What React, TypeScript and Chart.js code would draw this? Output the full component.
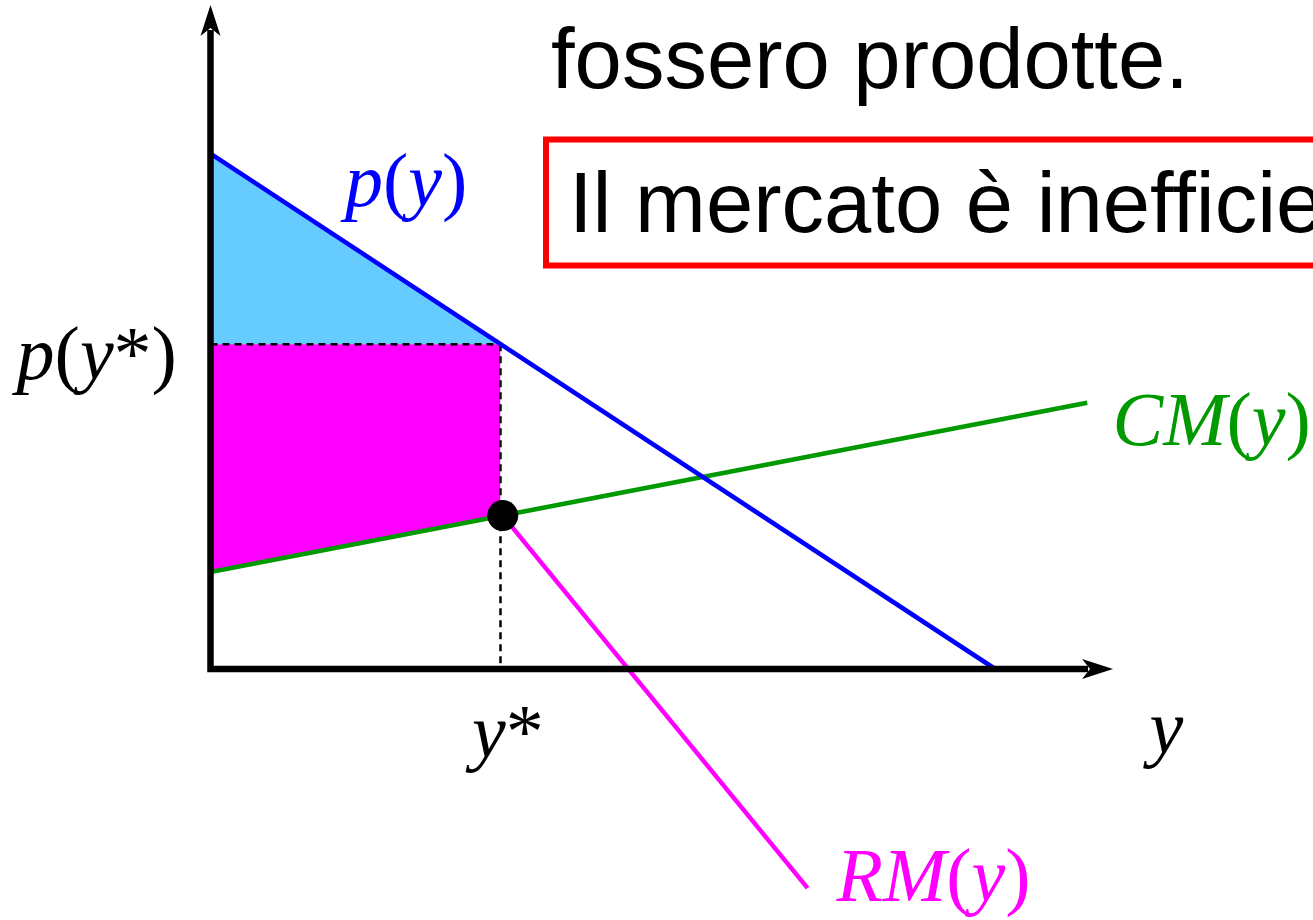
import React, { useEffect, useRef } from "react";
import { Chart, registerables } from "chart.js";

Chart.register(...registerables);

// ---- data (economic units) ----
const demandQ = [0, 87];
const demandP = [77.6, 0];
const mcQ = [0, 97.2];
const mcP = [14.6, 40.1];
const mrQ = [32.4, 66.2];
const mrP = [23.1, -33.0];
const yStar = 32.15;
const pStar = 48.9;
const mcAtYStar = 23.0;
const eqPoint = { q: 32.4, p: 23.1 };
const axisEnd = { q: 100.06, p: 100 };

// label anchors (data units) — text
const mathLabels: { parts: [string, boolean][]; q: number; p: number; color: string }[] = [
  { parts: [["p", true], ["(", false], ["y", true], [")", false]], q: 14.9, p: 69.7, color: "#0000FF" },
  { parts: [["p", true], ["(", false], ["y", true], ["*", false], [")", false]], q: -21.5, p: 43.7, color: "#000000" },
  { parts: [["CM", true], ["(", false], ["y", true], [")", false]], q: 100.0, p: 33.8, color: "#009900" },
  { parts: [["RM", true], ["(", false], ["y", true], [")", false]], q: 69.4, p: -35.0, color: "#FF00FF" },
  { parts: [["y", true], ["*", false]], q: 29.0, p: -13.3, color: "#000000" },
  { parts: [["y", true]], q: 104.1, p: -12.6, color: "#000000" },
];

const headline = "fossero prodotte.";
const boxText = "Il mercato è inefficiente";

const pts = (xs: number[], ys: number[]) => xs.map((x, i) => ({ x, y: ys[i] }));

export default function App() {
  const ref = useRef<HTMLCanvasElement | null>(null);

  useEffect(() => {
    const canvas = ref.current;
    if (!canvas) return;

    const overlay = {
      id: "overlay",
      beforeDraw(chart: any) {
        const c = chart.ctx;
        c.save();
        c.fillStyle = "#ffffff";
        c.fillRect(0, 0, chart.width, chart.height);
        c.restore();
      },
      afterDatasetsDraw(chart: any) {
        const c: CanvasRenderingContext2D = chart.ctx;
        const xs = chart.scales.x;
        const ys = chart.scales.y;
        const ox = xs.getPixelForValue(0);
        const oy = ys.getPixelForValue(0);
        const tipX = xs.getPixelForValue(axisEnd.q);
        const tipY = ys.getPixelForValue(axisEnd.p);
        c.save();
        // axes
        c.strokeStyle = "#000";
        c.fillStyle = "#000";
        c.lineWidth = 6.5;
        c.lineJoin = "miter";
        c.beginPath();
        c.moveTo(ox, tipY + 25);
        c.lineTo(ox, oy);
        c.lineTo(tipX - 25, oy);
        c.stroke();
        // arrow heads
        c.beginPath();
        c.moveTo(ox, tipY);
        c.lineTo(ox + 10, tipY + 31);
        c.lineTo(ox, tipY + 23);
        c.lineTo(ox - 10, tipY + 31);
        c.closePath();
        c.fill();
        c.beginPath();
        c.moveTo(tipX, oy);
        c.lineTo(tipX - 31, oy - 10);
        c.lineTo(tipX - 23, oy);
        c.lineTo(tipX - 31, oy + 10);
        c.closePath();
        c.fill();

        // math labels
        c.textBaseline = "alphabetic";
        c.textAlign = "left";
        for (const lab of mathLabels) {
          let x = xs.getPixelForValue(lab.q);
          const y = ys.getPixelForValue(lab.p);
          c.fillStyle = lab.color;
          for (const [t, it] of lab.parts) {
            c.font = (it ? "italic " : "") + "76px 'Liberation Serif', 'DejaVu Serif', serif";
            c.fillText(t, x, y);
            x += c.measureText(t).width;
          }
        }

        // slide text
        c.fillStyle = "#000";
        c.font = "85px 'Liberation Sans', Arial, sans-serif";
        c.fillText(headline, 551, 88);
        c.strokeStyle = "#FF0000";
        c.lineWidth = 6;
        c.strokeRect(546, 139.5, 1000, 126);
        c.fillText(boxText, 569, 232);
        c.restore();
      },
    };

    const chart = new Chart(canvas, {
      type: "line",
      data: {
        datasets: [
          {
            label: "surplus",
            data: pts([demandQ[0], yStar], [demandP[0], pStar]),
            borderWidth: 0,
            pointRadius: 0,
            backgroundColor: "#66CCFF",
            fill: { value: pStar } as any,
            order: 20,
          },
          {
            label: "profit",
            data: pts([mcQ[0], yStar], [mcP[0], mcAtYStar]),
            borderWidth: 0,
            pointRadius: 0,
            backgroundColor: "#FF00FF",
            fill: { value: pStar } as any,
            order: 19,
          },
          {
            label: "pStar",
            data: pts([0, yStar], [pStar, pStar]),
            borderColor: "#000",
            borderWidth: 2.5,
            borderDash: [7, 5],
            pointRadius: 0,
            fill: false,
            order: 10,
          },
          {
            label: "yStar",
            data: pts([yStar, yStar], [pStar, 0]),
            borderColor: "#000",
            borderWidth: 2.5,
            borderDash: [7, 5],
            pointRadius: 0,
            fill: false,
            order: 10,
          },
          {
            label: "p(y)",
            data: pts(demandQ, demandP),
            borderColor: "#0000FF",
            borderWidth: 4.5,
            pointRadius: 0,
            fill: false,
            order: 5,
          },
          {
            label: "CM(y)",
            data: pts(mcQ, mcP),
            borderColor: "#009900",
            borderWidth: 4.5,
            pointRadius: 0,
            fill: false,
            order: 5,
          },
          {
            label: "RM(y)",
            data: pts(mrQ, mrP),
            borderColor: "#FF00FF",
            borderWidth: 4.5,
            pointRadius: 0,
            fill: false,
            order: 6,
          },
          {
            label: "eq",
            data: [{ x: eqPoint.q, y: eqPoint.p }],
            showLine: false,
            pointRadius: 15.5,
            pointBackgroundColor: "#000",
            pointBorderWidth: 0,
            borderColor: "#000",
            order: 1,
          },
        ],
      },
      options: {
        animation: false,
        responsive: false,
        devicePixelRatio: 1,
        layout: { padding: 0, autoPadding: false },
        plugins: { legend: { display: false }, tooltip: { enabled: false } },
        events: [],
        scales: {
          x: { type: "linear", min: -23.337, max: 122.23, display: false },
          y: { type: "linear", min: -37.8, max: 100.75, display: false },
        },
      },
      plugins: [overlay],
    });
    return () => chart.destroy();
  }, []);

  return (
    <div style={{ position: "fixed", left: 0, top: 0, width: 1313, height: 920 }}>
      <canvas ref={ref} width={1313} height={920} style={{ display: "block" }} />
    </div>
  );
}
